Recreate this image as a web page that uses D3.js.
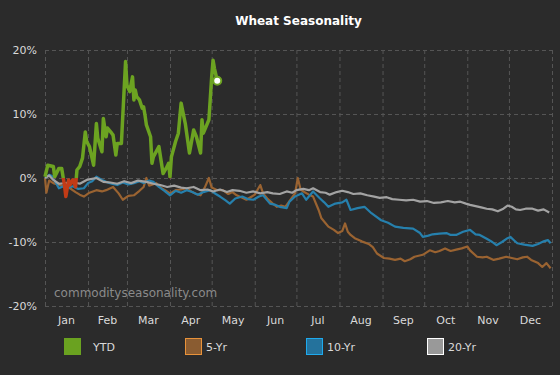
<!DOCTYPE html>
<html>
<head>
<meta charset="utf-8">
<script src="https://cdn.jsdelivr.net/npm/d3@7"></script>
<style>
  html, body { margin: 0; padding: 0; background: #2b2b2b; }
  svg { display: block; font-family: "DejaVu Sans", Verdana, sans-serif; }
</style>
</head>
<body>
<div id="chart"></div>
<script>
// day of year (0 = Jan 1) and % change
const ytdDays = [0, 2, 6, 7, 10, 12, 14, 15, 17, 18, 20, 22, 23, 25, 27, 29, 30, 32, 35, 37, 38, 41, 42, 44, 45, 48, 49, 51, 52, 55, 58, 59, 61, 63, 64, 65, 66, 68, 70, 71, 72, 73, 76, 77, 78, 82, 85, 88, 89, 90, 91, 94, 96, 98, 99, 101, 104, 107, 109, 112, 113, 114, 118, 120, 121, 122, 124]
const ytdValues = [0.2, 2.0, 1.8, 0.2, 1.5, 1.5, -1.1, -2.9, -0.3, -1.1, -0.3, -1.4, 1.25, 1.8, 3.1, 7.2, 5.7, 4.9, 2.0, 8.5, 6.2, 4.1, 9.3, 6.45, 7.8, 7.0, 6.7, 3.6, 5.4, 5.4, 18.2, 14.5, 13.5, 15.8, 12.2, 13.75, 12.7, 12.2, 10.9, 11.1, 9.8, 8.3, 6.45, 2.3, 3.3, 4.9, 0.7, 1.8, 2.3, 0.2, 3.3, 5.7, 7.0, 11.7, 10.6, 8.5, 3.9, 7.5, 6.45, 3.9, 9.1, 7.0, 9.1, 15.8, 18.4, 17.1, 15.2]

const fiveYr = [[0, 0], [1, -2.3], [3, -0.4], [6, -0.8], [9, -1.0], [13, -1.3], [18, -1.6], [22, -2.2], [25, -2.6], [28, -2.9], [32, -2.3], [37, -1.9], [41, -2.1], [44, -1.9], [49, -1.4], [53, -2.4], [56, -3.4], [60, -2.8], [64, -2.7], [68, -2.0], [71, -1.4], [73, 0], [75, -1.2], [80, -0.8], [84, -1.6], [87, -2.0], [90, -2.4], [94, -1.9], [98, -1.8], [102, -1.6], [106, -2.2], [109, -2.5], [112, -2.7], [115, -1.5], [118, 0], [120, -1.5], [124, -1.9], [128, -1.9], [132, -2.5], [135, -2.2], [138, -2.7], [142, -3.1], [145, -3.4], [148, -3.0], [151, -2.6], [155, -1.1], [157, -2.4], [160, -3.2], [164, -4.0], [167, -4.5], [170, -4.3], [173, -4.5], [176, -3.6], [180, -2.4], [182, 0], [184, -1.8], [186, -2.1], [190, -2.6], [193, -2.9], [197, -5.0], [199, -6.3], [204, -7.6], [208, -8.1], [211, -8.6], [214, -8.3], [216, -7.1], [218, -8.4], [220, -8.9], [223, -9.4], [228, -9.9], [233, -10.3], [236, -10.8], [239, -11.8], [244, -12.5], [248, -12.6], [252, -12.8], [256, -12.6], [259, -13.0], [263, -12.7], [266, -12.3], [272, -12.0], [277, -11.3], [281, -11.6], [284, -11.4], [288, -11.0], [292, -11.4], [296, -11.2], [300, -11.0], [304, -10.7], [306, -11.3], [311, -12.3], [315, -12.4], [318, -12.3], [323, -12.8], [327, -12.6], [332, -12.3], [336, -12.5], [340, -12.7], [344, -12.4], [347, -12.3], [350, -12.8], [355, -13.3], [358, -13.9], [361, -13.3], [364, -14.1]]

const tenYr = [[0, 0], [3, 0.5], [5, 0.3], [8, -0.8], [10, -1.6], [14, -1.2], [17, -1.5], [20, -1.3], [24, -1.7], [28, -1.6], [31, -0.8], [34, -0.5], [37, 0.2], [41, -0.3], [44, -0.6], [48, -0.9], [52, -1.1], [56, -0.7], [60, -1.0], [64, -0.8], [68, -0.5], [71, -0.8], [75, -0.4], [78, -0.6], [82, -1.4], [86, -2.0], [90, -2.7], [94, -2.0], [98, -2.3], [102, -1.9], [106, -2.2], [110, -2.6], [114, -2.2], [119, -1.9], [123, -2.5], [126, -2.9], [130, -3.5], [133, -4.0], [137, -3.2], [142, -2.9], [146, -3.3], [150, -3.4], [154, -2.9], [157, -2.7], [160, -3.5], [162, -4.0], [166, -4.2], [169, -4.5], [174, -4.7], [176, -3.7], [180, -2.9], [185, -2.4], [188, -3.4], [193, -2.1], [198, -3.2], [201, -3.8], [204, -4.5], [209, -4.0], [214, -3.8], [217, -3.4], [220, -5.0], [225, -4.7], [230, -4.5], [235, -5.5], [242, -6.6], [247, -7.0], [252, -7.6], [258, -7.8], [265, -7.9], [270, -8.6], [272, -9.2], [276, -9.0], [279, -8.8], [284, -8.7], [289, -8.6], [292, -8.9], [296, -8.9], [301, -8.4], [306, -8.1], [310, -8.8], [313, -8.9], [318, -9.5], [322, -10.0], [325, -10.5], [329, -10.0], [333, -9.4], [335, -9.2], [338, -9.8], [340, -10.2], [345, -10.4], [351, -10.6], [355, -10.3], [359, -9.9], [362, -9.7], [364, -10.2]]

const twentyYr = [[0, 0], [3, 0.4], [6, -0.3], [10, -0.9], [15, -0.8], [20, -0.6], [25, -0.9], [30, -0.3], [37, 0], [42, -0.6], [47, -0.7], [52, -0.9], [57, -0.5], [62, -0.8], [67, -0.4], [73, -0.6], [78, -0.9], [83, -1.1], [88, -1.4], [93, -1.2], [98, -1.5], [102, -1.6], [107, -1.4], [112, -1.9], [117, -1.8], [121, -2.1], [126, -1.8], [131, -2.2], [135, -1.9], [140, -2.0], [145, -2.3], [150, -2.1], [155, -2.4], [160, -2.2], [164, -2.4], [169, -2.5], [174, -2.1], [178, -2.3], [181, -1.9], [186, -1.7], [190, -1.9], [193, -1.6], [198, -2.2], [202, -2.3], [205, -2.6], [210, -2.2], [214, -2.0], [218, -2.2], [222, -2.5], [227, -2.4], [232, -2.7], [237, -2.9], [241, -3.1], [246, -3.0], [250, -3.3], [255, -3.4], [260, -3.5], [265, -3.4], [270, -3.7], [275, -3.6], [280, -3.9], [285, -3.8], [290, -3.6], [295, -3.8], [299, -3.7], [303, -4.0], [306, -4.2], [310, -4.4], [314, -4.6], [318, -4.8], [322, -4.9], [326, -5.2], [330, -4.8], [333, -4.3], [336, -4.5], [339, -4.9], [342, -5.0], [346, -4.8], [351, -4.8], [355, -5.1], [359, -4.9], [363, -5.4]]

const yTicks = [-20, -10, 0, 10, 20]
const monthNames = ['Jan', 'Feb', 'Mar', 'Apr', 'May', 'Jun', 'Jul', 'Aug', 'Sep', 'Oct', 'Nov', 'Dec']
const legendNames = ['YTD', '5-Yr', '10-Yr', '20-Yr']

const W = 560, H = 375
const m = { left: 45, right: 552, top: 50, bottom: 306 }
const year = 2023
const dayToDate = (d) => new Date(year, 0, 1 + d)
const labelColor = '#dadada'

const svg = d3.select('#chart').append('svg').attr('width', W).attr('height', H)
svg.append('rect').attr('width', W).attr('height', H).attr('fill', '#2b2b2b')

const x = d3.scaleTime().domain([new Date(year, 0, 1), new Date(year + 1, 0, 1)]).range([m.left, m.right])
const y = d3.scaleLinear().domain([-20, 20]).range([m.bottom, m.top])

// title
svg.append('text')
    .attr('x', (m.left + m.right) / 2).attr('y', 25)
    .attr('text-anchor', 'middle')
    .attr('fill', '#fff').attr('font-size', 12).attr('font-weight', 'bold')
    .text('Wheat Seasonality')

// y grid + labels
const yAxis = svg.append('g')
    .attr('transform', `translate(${m.left},0)`)
    .call(d3.axisLeft(y).tickValues(yTicks).tickSize(-(m.right - m.left)).tickFormat((d) => d + '%'))
yAxis.select('.domain').remove()
yAxis.selectAll('line').attr('stroke', '#555').attr('stroke-dasharray', '4,3')
yAxis.selectAll('text').attr('x', -8).attr('fill', labelColor).attr('font-size', 11)
    .attr('font-family', '"DejaVu Sans", sans-serif')

// x grid at month starts
const months = d3.timeMonth.range(new Date(year, 0, 1), new Date(year + 1, 0, 2))
const xAxis = svg.append('g')
    .attr('transform', `translate(0,${m.bottom})`)
    .call(d3.axisBottom(x).tickValues(months).tickSize(-(m.bottom - m.top)).tickFormat(''))
xAxis.select('.domain').remove()
xAxis.selectAll('line').attr('stroke', '#555').attr('stroke-dasharray', '4,3')

// month labels centred in each month
svg.append('g').selectAll('text')
    .data(months.slice(0, 12))
    .join('text')
    .attr('x', (d) => (x(d) + x(d3.timeMonth.offset(d, 1))) / 2)
    .attr('y', 324)
    .attr('text-anchor', 'middle')
    .attr('fill', labelColor).attr('font-size', 11)
    .text((d, i) => monthNames[i])

// watermark
svg.append('text')
    .attr('x', 54).attr('y', 297)
    .attr('fill', '#8a8a8a').attr('font-size', 12)
    .text('commodityseasonality.com')

const line = d3.line()
    .x((d) => x(dayToDate(d[0])))
    .y((d) => y(d[1]))

const series = [
    { data: fiveYr, color: '#9a6331' },
    { data: tenYr, color: '#2680ad' },
    { data: twentyYr, color: '#a3a3a3' },
]
for (const s of series) {
    svg.append('path')
        .attr('d', line(s.data))
        .attr('fill', 'none')
        .attr('stroke', s.color)
        .attr('stroke-width', 2.2)
        .attr('stroke-linejoin', 'round')
}

// YTD: green above zero, red below
const ytd = ytdDays.map((d, i) => [d, ytdValues[i]])
const defs = svg.append('defs')
defs.append('clipPath').attr('id', 'above')
    .append('rect').attr('x', 0).attr('y', 0).attr('width', W).attr('height', y(0))
defs.append('clipPath').attr('id', 'below')
    .append('rect').attr('x', 0).attr('y', y(0)).attr('width', W).attr('height', H - y(0))

svg.append('path')
    .attr('d', line(ytd))
    .attr('clip-path', 'url(#above)')
    .attr('fill', 'none').attr('stroke', '#6ca321').attr('stroke-width', 3.5)
    .attr('stroke-linejoin', 'round')
svg.append('path')
    .attr('d', line(ytd))
    .attr('clip-path', 'url(#below)')
    .attr('fill', 'none').attr('stroke', '#c23b16').attr('stroke-width', 3.5)
    .attr('stroke-linejoin', 'round')

const last = ytd[ytd.length - 1]
svg.append('circle')
    .attr('cx', x(dayToDate(last[0]))).attr('cy', y(last[1]))
    .attr('r', 4)
    .attr('fill', '#fff').attr('stroke', '#6ca321').attr('stroke-width', 2)

// legend
const legendFill = ['#6aa220', '#8a5c31', '#24729c', '#999999']
const legendStroke = ['#6aa220', '#e8923a', '#1eaaee', '#ffffff']
const legend = svg.append('g').selectAll('g')
    .data(legendNames)
    .join('g')
    .attr('transform', (d, i) => `translate(${64.5 + i * 121},338.5)`)
legend.append('rect')
    .attr('width', 16).attr('height', 16)
    .attr('fill', (d, i) => legendFill[i])
    .attr('stroke', (d, i) => legendStroke[i])
    .attr('stroke-width', 1)
legend.append('text')
    .attr('x', (d, i) => (i === 0 ? 28.5 : 20.5))
    .attr('y', 12.5)
    .attr('fill', labelColor).attr('font-size', 11)
    .text((d) => d)
</script>
</body>
</html>
